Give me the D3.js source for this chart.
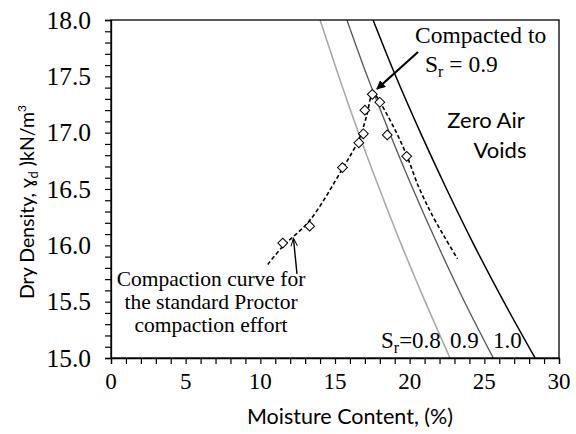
<!DOCTYPE html>
<html><head><meta charset="utf-8">
<script src="https://cdn.jsdelivr.net/npm/d3@7"></script>
<style>
html,body{margin:0;padding:0;background:#fff;}
svg{display:block;}
.serif{font-family:"Liberation Serif","Times New Roman",serif;}
.sans{font-family:Lato,"Open Sans",sans-serif;}
</style></head>
<body>
<svg id="chart" width="576" height="434"></svg>
<script>
// ---- data ----
const densityLevels = [18.0, 17.5, 17.0, 16.5, 16.0, 15.5, 15.0];
const sr08Moisture = [14.0, 15.25, 16.57, 17.98, 19.46, 21.04, 22.7];
const sr09Moisture = [15.8, 17.16, 18.65, 20.22, 21.89, 23.67, 25.6];
const zavMoisture  = [17.55, 19.07, 20.72, 22.47, 24.32, 26.3, 28.4];

const testMoisture = [11.5, 13.3, 15.5, 16.6, 16.9, 17.0, 17.5, 18.0, 18.5, 19.8];
const testDensity  = [16.02, 16.17, 16.69, 16.91, 16.99, 17.20, 17.34, 17.27, 16.98, 16.79];

const curveMoisture = [10.5, 11.5, 13.3, 15.5, 16.6, 17.1, 17.55, 18.1, 19.0, 19.8, 20.6, 21.5, 22.4, 23.2];
const curveDensity  = [15.83, 15.99, 16.22, 16.68, 16.94, 17.14, 17.35, 17.25, 17.03, 16.8, 16.52, 16.27, 16.06, 15.88];

const xTicks = [0, 5, 10, 15, 20, 25, 30];
const yTicks = [15.0, 15.5, 16.0, 16.5, 17.0, 17.5, 18.0];

// ---- layout ----
const svg = d3.select("#chart");
const L = 111, R = 559, T = 20, B = 358;
const x = d3.scaleLinear().domain([0, 30]).range([L, R]);
const y = d3.scaleLinear().domain([15, 18]).range([B, T]);

svg.append("defs").append("clipPath").attr("id", "clip")
  .append("rect").attr("x", L).attr("y", T).attr("width", R - L).attr("height", B - T);

// saturation lines
const satLine = d3.line().x(d => x(d[0])).y(d => y(d[1])).curve(d3.curveMonotoneY);
const satSeries = [
  {w: sr08Moisture, color: "#aaaaaa", width: 1.6},
  {w: sr09Moisture, color: "#555555", width: 1.3},
  {w: zavMoisture,  color: "#000000", width: 1.5}
];
const plot = svg.append("g").attr("clip-path", "url(#clip)");
satSeries.forEach(s => {
  plot.append("path")
    .datum(s.w.map((w, i) => [w, densityLevels[i]]))
    .attr("d", satLine).attr("fill", "none")
    .attr("stroke", s.color).attr("stroke-width", s.width);
});

// compaction curve
const cLine = d3.line().x(d => x(d[0])).y(d => y(d[1])).curve(d3.curveCatmullRom.alpha(0.5));
plot.append("path")
  .datum(curveMoisture.map((w, i) => [w, curveDensity[i]]))
  .attr("d", cLine).attr("fill", "none").attr("stroke", "#000")
  .attr("stroke-width", 1.6).attr("stroke-dasharray", "4,2.5");

// diamonds
plot.selectAll("path.pt").data(testMoisture.map((w, i) => [w, testDensity[i]]))
  .enter().append("path").attr("class", "pt")
  .attr("d", d3.symbol().type(d3.symbolSquare).size(48))
  .attr("transform", d => `translate(${x(d[0])},${y(d[1])}) rotate(45)`)
  .attr("fill", "#fff").attr("stroke", "#000").attr("stroke-width", 1);

// frame
svg.append("rect").attr("x", L).attr("y", T).attr("width", R - L).attr("height", B - T)
  .attr("fill", "none").attr("stroke", "#000").attr("stroke-width", 1.3);

// axes
const xAxis = svg.append("g").attr("transform", `translate(0,${B})`)
  .call(d3.axisBottom(x).tickValues(d3.range(0, 31, 1)).tickSize(6).tickFormat(""));
const yAxis = svg.append("g").attr("transform", `translate(${L},0)`)
  .call(d3.axisLeft(y).tickValues(d3.range(150, 181, 1).map(v => v / 10)).tickSize(6).tickFormat(""));
[xAxis, yAxis].forEach(a => {
  a.select(".domain").attr("stroke", "#000").attr("stroke-width", 1.3);
  a.selectAll(".tick line").attr("stroke", "#000").attr("stroke-width", 1.2);
});

svg.append("g").selectAll("text").data(xTicks).enter().append("text")
  .attr("class", "serif").attr("x", d => x(d)).attr("y", 389)
  .attr("text-anchor", "middle").attr("font-size", 23).text(d => d);
svg.append("g").selectAll("text").data(yTicks).enter().append("text")
  .attr("class", "serif").attr("x", 91).attr("y", d => y(d) + 8.5)
  .attr("text-anchor", "end").attr("font-size", 25.5).text(d => d.toFixed(1));

// axis titles
svg.append("text").attr("class", "sans").attr("x", 350).attr("y", 424)
  .attr("text-anchor", "middle").attr("font-size", 21.5).text("Moisture Content, (%)");

const yt = svg.append("text").attr("class", "sans").attr("font-size", 19.5)
  .attr("text-anchor", "middle")
  .attr("transform", "translate(34,202) rotate(-90)");
yt.append("tspan").text("Dry Density, ɣ");
yt.append("tspan").attr("font-size", 13).attr("dy", 4).text("d");
yt.append("tspan").attr("dy", -4).text(" )kN/m");
yt.append("tspan").attr("font-size", 12).attr("dy", -8).text("3");

// annotations
const ser = (t, xx, yy, anchor, fs) => svg.append("text").attr("class", "serif")
  .attr("x", xx).attr("y", yy).attr("font-size", fs || 22)
  .attr("text-anchor", anchor || "start").text(t);

ser("Compacted to", 415, 43, "start", 23.5);
const s1 = svg.append("text").attr("class", "serif").attr("x", 425).attr("y", 72).attr("font-size", 23.5);
s1.append("tspan").text("S");
s1.append("tspan").attr("font-size", 16).attr("dy", 5).text("r");
s1.append("tspan").attr("dy", -5).text(" = 0.9");

ser("Compaction curve for", 211, 286, "middle", 21.5);
ser("the standard Proctor", 211, 309, "middle", 21.5);
ser("compaction effort", 211, 332, "middle", 21.5);

const s2 = svg.append("text").attr("class", "serif").attr("x", 381).attr("y", 348).attr("font-size", 23);
s2.append("tspan").text("S");
s2.append("tspan").attr("font-size", 16).attr("dy", 5).text("r");
s2.append("tspan").attr("dy", -5).text("=0.8");
ser("0.9", 450, 348, "start", 23);
ser("1.0", 493, 348, "start", 23);

svg.append("text").attr("class", "sans").attr("x", 486).attr("y", 128)
  .attr("text-anchor", "middle").attr("font-size", 22).text("Zero Air");
svg.append("text").attr("class", "sans").attr("x", 500).attr("y", 158)
  .attr("text-anchor", "middle").attr("font-size", 22).text("Voids");

// arrows
const defs = svg.select("defs");
defs.append("marker").attr("id", "ah").attr("viewBox", "0 0 10 10")
  .attr("refX", 9).attr("refY", 5).attr("markerWidth", 9).attr("markerHeight", 9)
  .attr("markerUnits", "userSpaceOnUse").attr("orient", "auto")
  .append("path").attr("d", "M0,0 L10,5 L0,10 z").attr("fill", "#000");
defs.append("marker").attr("id", "ah2").attr("viewBox", "0 0 10 10")
  .attr("refX", 9).attr("refY", 5).attr("markerWidth", 10).attr("markerHeight", 8)
  .attr("markerUnits", "userSpaceOnUse").attr("orient", "auto")
  .append("path").attr("d", "M0,1 L10,5 L0,9").attr("fill", "none").attr("stroke", "#000").attr("stroke-width", 1.2);

svg.append("line").attr("x1", 418).attr("y1", 52).attr("x2", 377).attr("y2", 89)
  .attr("stroke", "#000").attr("stroke-width", 2.2).attr("marker-end", "url(#ah)");
svg.append("line").attr("x1", 297).attr("y1", 274).attr("x2", 293.5).attr("y2", 239)
  .attr("stroke", "#000").attr("stroke-width", 1.4).attr("marker-end", "url(#ah2)");
</script>
</body></html>
